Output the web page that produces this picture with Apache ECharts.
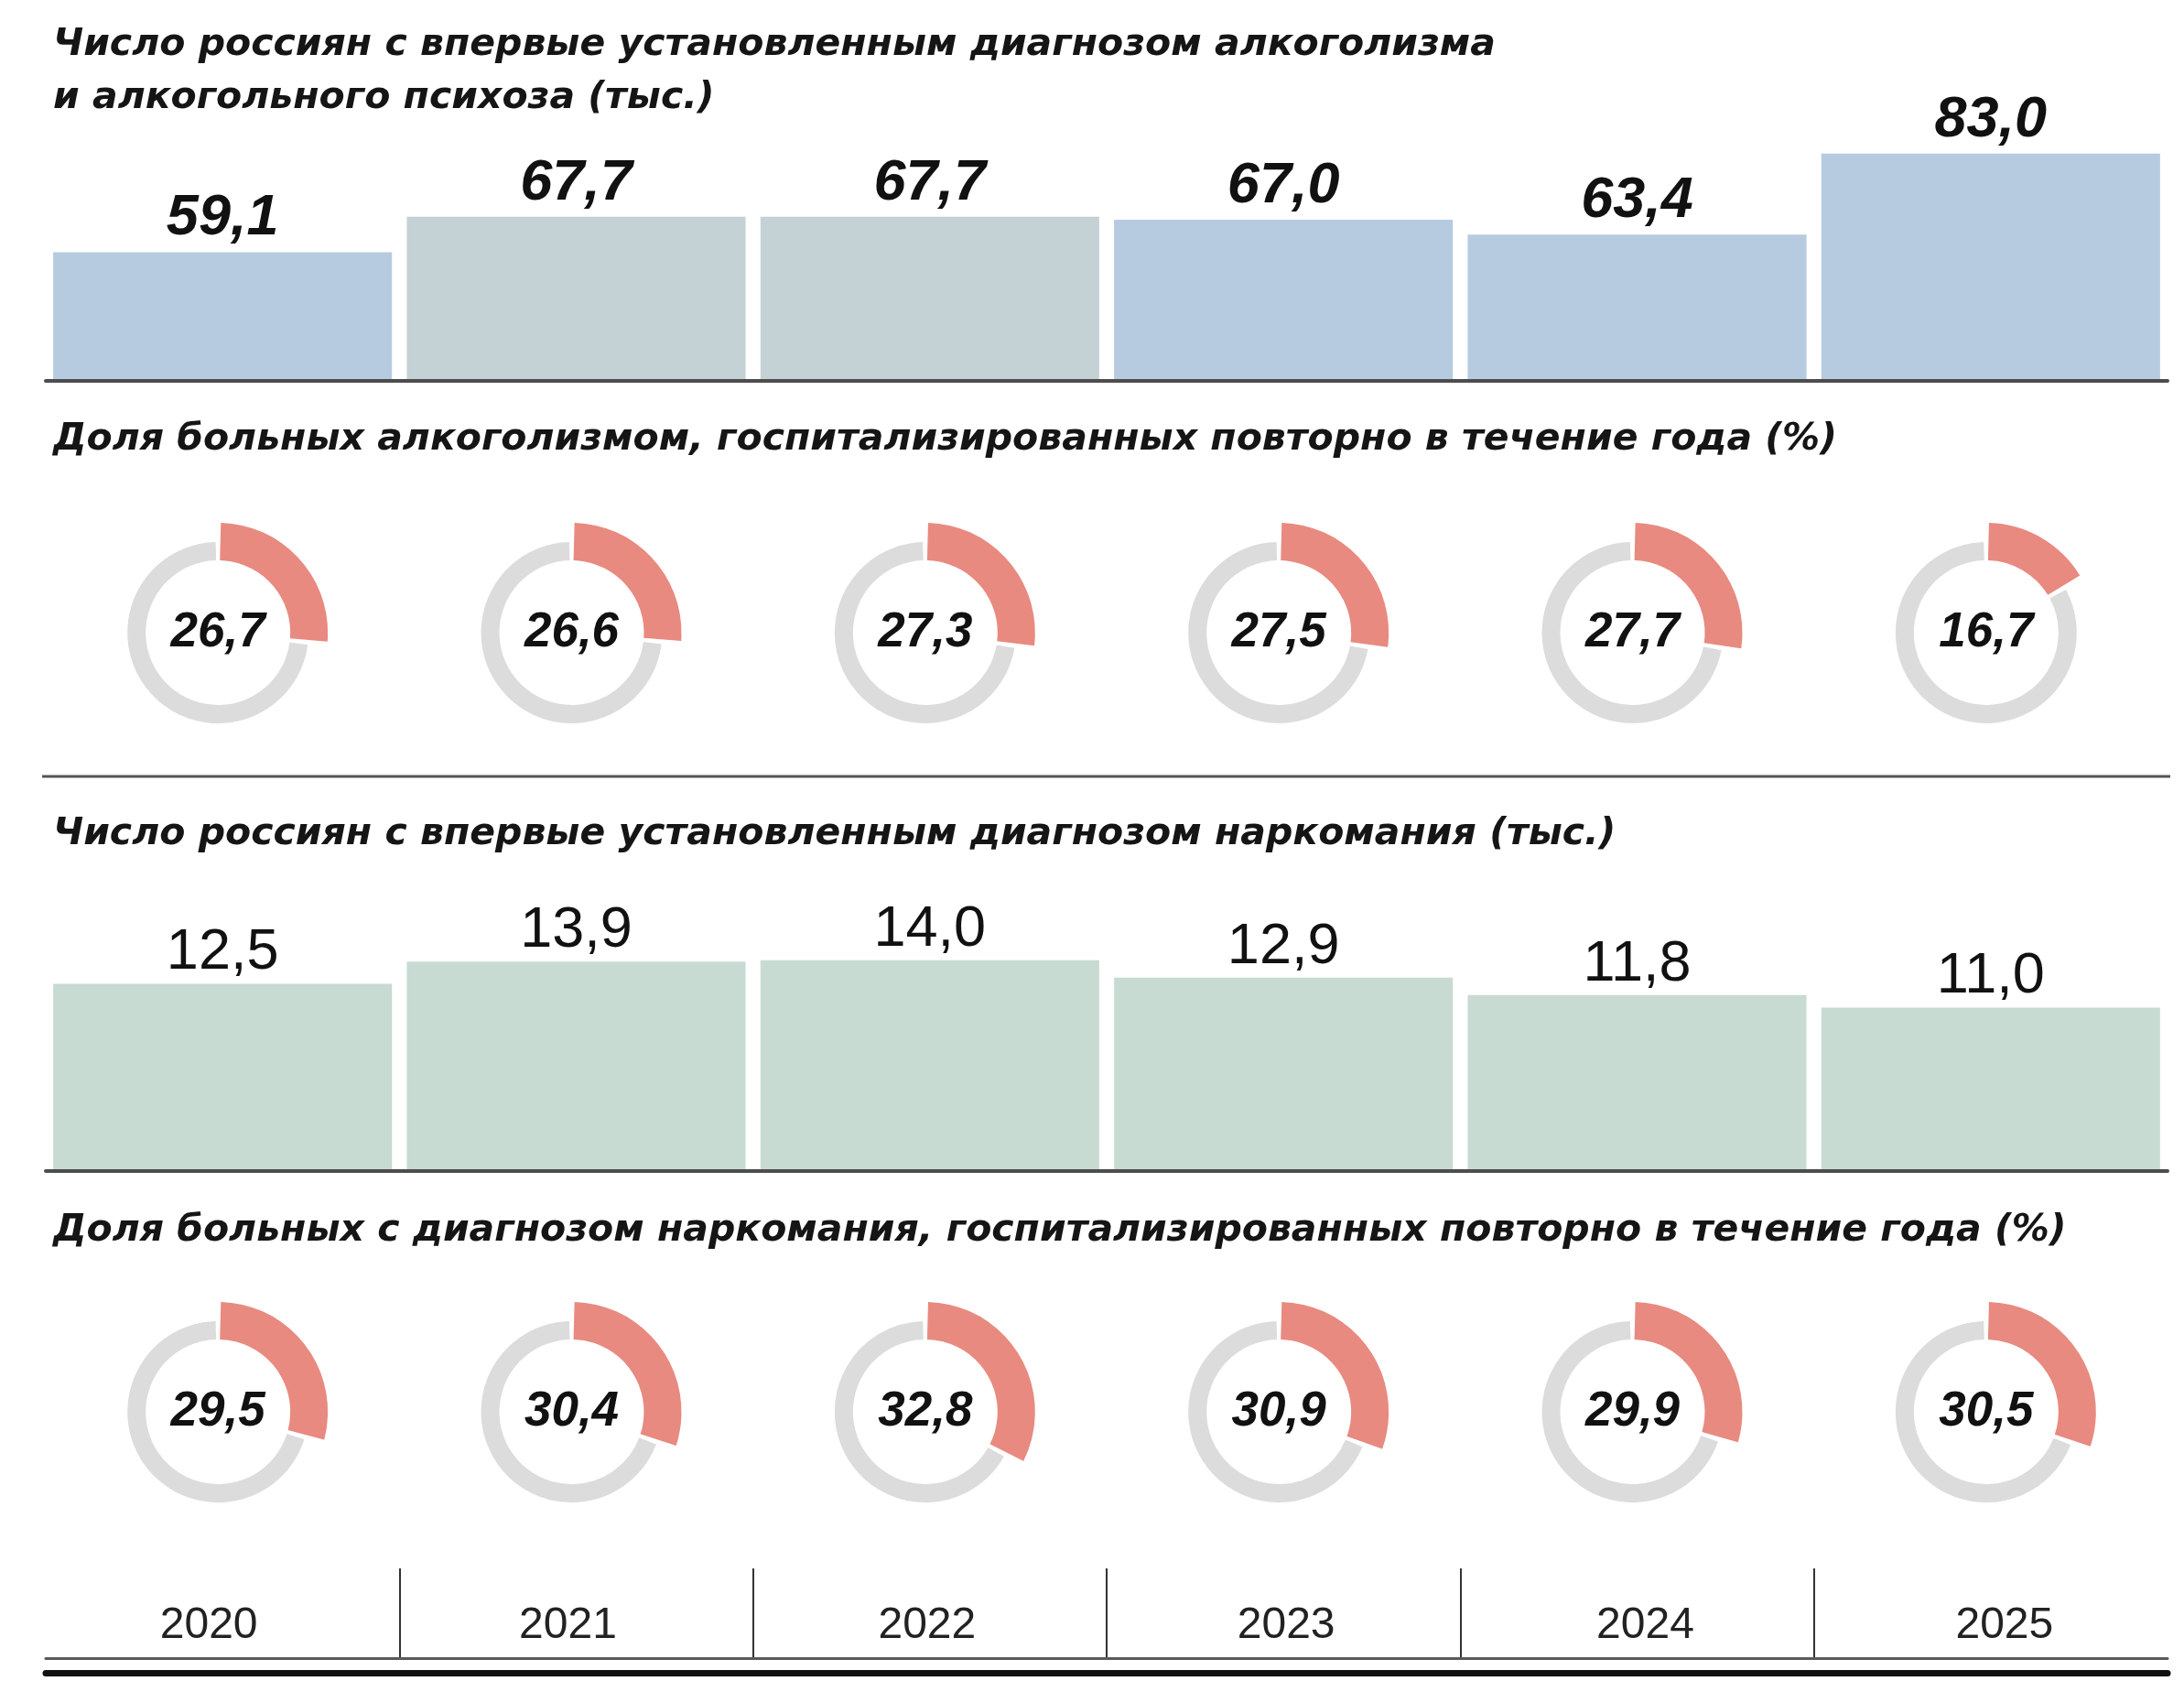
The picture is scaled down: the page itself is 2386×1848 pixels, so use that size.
<!DOCTYPE html>
<html>
<head>
<meta charset="utf-8">
<script src="https://cdn.jsdelivr.net/npm/echarts@6/dist/echarts.min.js"></script>
<style>
html,body{margin:0;padding:0;background:#fff;}
#main{width:2386px;height:1848px;}
</style>
</head>
<body>
<div id="main"></div>
<script>
var years = ['2020', '2021', '2022', '2023', '2024', '2025'];
// тыс. человек
var alcCases = [59.1, 67.7, 67.7, 67.0, 63.4, 83.0];
var drugCases = [12.5, 13.9, 14.0, 12.9, 11.8, 11.0];
// % госпитализированных повторно
var alcRepeat = [26.7, 26.6, 27.3, 27.5, 27.7, 16.7];
var drugRepeat = [29.5, 30.4, 32.8, 30.9, 29.9, 30.5];

var title1 = 'Число россиян с впервые установленным диагнозом алкоголизма\nи алкогольного психоза (тыс.)';
var title2 = 'Доля больных алкоголизмом, госпитализированных повторно в течение года (%)';
var title3 = 'Число россиян с впервые установленным диагнозом наркомания (тыс.)';
var title4 = 'Доля больных с диагнозом наркомания, госпитализированных повторно в течение года (%)';

var alcColors = ['#b6cbe0', '#c4d2d5', '#c4d2d5', '#b6cbe0', '#b6cbe0', '#b6cbe0'];

var titleFont = '"DejaVu Sans", sans-serif';
var numFont = '"Liberation Sans", Arial, sans-serif';

function fmt(v) {
	return v.toFixed(1).replace('.', ',');
}

function titleItem(text, top, lh) {
	return {
		text: text,
		left: 58,
		top: top,
		padding: 0,
		textStyle: {
			fontFamily: titleFont,
			fontWeight: 'bold',
			fontStyle: 'italic',
			fontSize: 41,
			lineHeight: lh,
			color: '#151515'
		}
	};
}

var myChart = echarts.init(document.getElementById('main'));

var option = {
	animation: false,
	backgroundColor: '#fff',
	title: [
		titleItem(title1, 20, 58),
		titleItem(title2, 457, 46),
		titleItem(title3, 888, 46),
		titleItem(title4, 1321, 46)
	],
	grid: [
		{left: 50, width: 2318, top: 91, height: 325},
		{left: 50, width: 2318, top: 1014, height: 265},
		{left: 50, width: 2318, top: 1713, height: 98},
		// the year captions sit a little wider apart than the dividers
		{left: 32, width: 2356, top: 1713, height: 98}
	],
	xAxis: [
		{
			type: 'category', gridIndex: 0, data: years, z: 3,
			axisLine: {lineStyle: {color: '#4d4d4d', width: 4}},
			axisTick: {show: false}, axisLabel: {show: false}
		},
		{
			type: 'category', gridIndex: 1, data: years, z: 3,
			axisLine: {lineStyle: {color: '#4d4d4d', width: 4}},
			axisTick: {show: false}, axisLabel: {show: false}
		},
		{
			type: 'category', gridIndex: 2, data: years, position: 'top',
			axisLine: {lineStyle: {color: '#5a5a5a', width: 3}},
			axisTick: {show: false}, axisLabel: {show: false},
			splitLine: {
				show: true, showMinLine: false, showMaxLine: false,
				lineStyle: {color: '#333', width: 2}
			}
		},
		{
			type: 'category', gridIndex: 2, data: years, position: 'bottom', offset: 16,
			axisLine: {lineStyle: {color: '#111', width: 7}},
			axisTick: {show: false}, axisLabel: {show: false}
		},
		{
			type: 'category', gridIndex: 3, data: years, position: 'top',
			axisLine: {show: false}, axisTick: {show: false},
			axisLabel: {
				inside: true, interval: 0, margin: 39,
				fontFamily: numFont, fontSize: 48, color: '#222'
			}
		}
	],
	yAxis: [
		{type: 'value', gridIndex: 0, min: 28, max: 100, show: false},
		{type: 'value', gridIndex: 1, min: 0.7, max: 16, show: false},
		{type: 'value', gridIndex: 2, min: 0, max: 1, show: false},
		{type: 'value', gridIndex: 3, min: 0, max: 1, show: false}
	],
	graphic: [
		{
			type: 'line', silent: true,
			shape: {x1: 46, y1: 848, x2: 2371, y2: 848},
			style: {stroke: '#555', lineWidth: 3}
		}
	],
	series: [
		{
			type: 'bar', xAxisIndex: 0, yAxisIndex: 0, silent: true,
			data: alcCases,
			barCategoryGap: '4.2%',
			itemStyle: {
				color: function (p) { return alcColors[p.dataIndex]; }
			},
			label: {
				show: true, position: 'top', distance: 5,
				formatter: function (p) { return fmt(p.value); },
				fontFamily: numFont, fontWeight: 'bold', fontStyle: 'italic',
				fontSize: 63, color: '#111'
			}
		},
		{
			type: 'bar', xAxisIndex: 1, yAxisIndex: 1, silent: true,
			data: drugCases,
			barCategoryGap: '4.2%',
			itemStyle: {color: '#c8dbd3'},
			label: {
				show: true, position: 'top', distance: 2,
				formatter: function (p) { return fmt(p.value); },
				fontFamily: numFont, fontSize: 63, color: '#111'
			}
		}
	]
};
myChart.setOption(option);

// donuts go under the bar centres, nudged a bit left as in the print
function donuts(values, cy) {
	var list = [];
	for (var i = 0; i < values.length; i++) {
		var v = values[i];
		var cx = myChart.convertToPixel({xAxisIndex: 0}, years[i]) - 5;
		list.push({
			type: 'pie', silent: true, center: [cx, cy], radius: [79, 99],
			startAngle: 90, clockwise: true, padAngle: 3,
			label: {show: false}, labelLine: {show: false},
			data: [
				{value: v, itemStyle: {color: 'rgba(0,0,0,0)'}},
				{value: 100 - v, itemStyle: {color: '#dcdcdc'}}
			]
		});
		list.push({
			type: 'pie', silent: true, center: [cx, cy], radius: [79, 120],
			startAngle: 90, clockwise: true, padAngle: 3,
			label: {show: false}, labelLine: {show: false},
			data: [
				{
					value: v, itemStyle: {color: '#e88a80'},
					label: {
						show: true, position: 'center', formatter: fmt(v),
						fontFamily: numFont, fontWeight: 'bold', fontStyle: 'italic',
						fontSize: 53, color: '#111'
					}
				},
				{value: 100 - v, itemStyle: {color: 'rgba(0,0,0,0)'}}
			]
		});
	}
	return list;
}

option.series = option.series.concat(donuts(alcRepeat, 691), donuts(drugRepeat, 1542));
myChart.setOption(option);
</script>
</body>
</html>
